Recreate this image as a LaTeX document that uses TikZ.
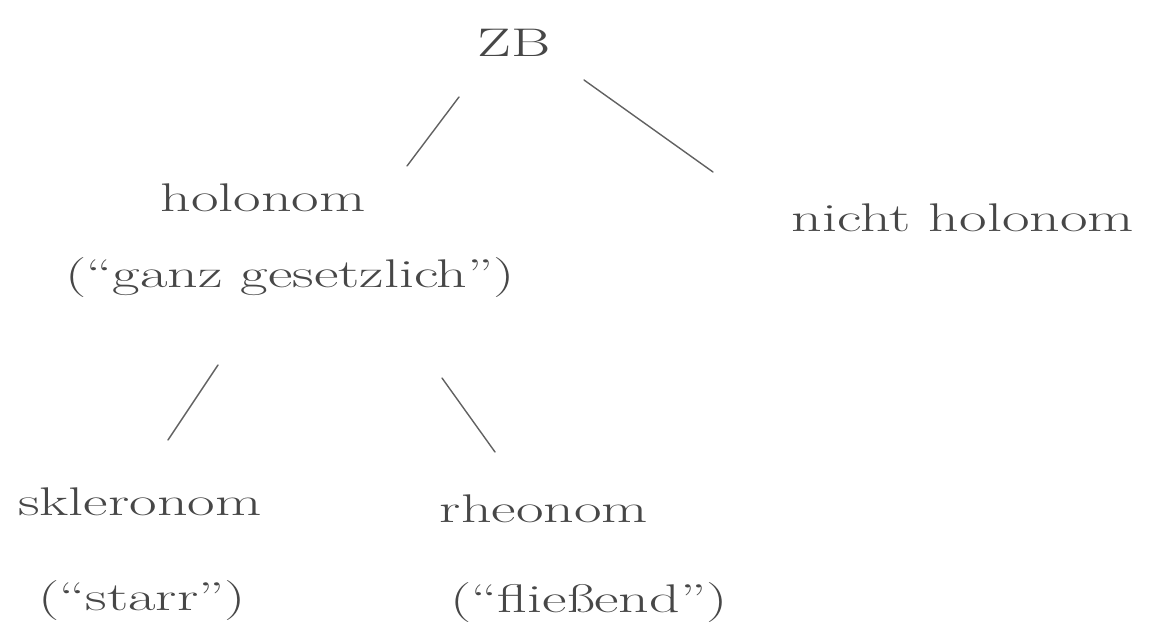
\documentclass[tikz,border=0pt]{standalone}
\usepackage{graphicx}
\tikzset{
  hw/.style={inner sep=0pt, anchor=base, text=black!72, font=\fontsize{40}{48}\selectfont},
  conn/.style={draw=black!62, line width=1.4pt, line cap=round}
}
\newcommand{\hwtext}[1]{\scalebox{1.5}[1]{#1}}
\begin{document}
\begin{tikzpicture}[x=1pt,y=-1pt]
  \useasboundingbox (0,0) rectangle (1163,639);
  % labels
  \node[hw] (zb) at (514,57) {\hwtext{ZB}};
  \node[hw] (holonom) at (263,212) {\hwtext{holonom}};
  \node[hw] (ganz) at (290,288) {\hwtext{(“ganz gesetzlich”)}};
  \node[hw] (nicht) at (963,232) {\hwtext{nicht holonom}};
  \node[hw] (sklero) at (140,515) {\hwtext{skleronom}};
  \node[hw] (starr) at (142,610) {\hwtext{(“starr”)}};
  \node[hw] (rheo) at (544,522) {\hwtext{rheonom}};
  \node[hw] (fliess) at (589,612) {\hwtext{(“fließend”)}};
  % connector end points
  \coordinate (zbL) at (459,97);
  \coordinate (holT) at (407,166);
  \coordinate (zbR) at (584,80);
  \coordinate (nichtT) at (713,172);
  \coordinate (ganzL) at (218,365);
  \coordinate (skleroT) at (168,440);
  \coordinate (ganzR) at (442,378);
  \coordinate (rheoT) at (495,452);
  % connectors
  \draw[conn] (zbL) -- (holT);
  \draw[conn] (zbR) -- (nichtT);
  \draw[conn] (ganzL) -- (skleroT);
  \draw[conn] (ganzR) -- (rheoT);
\end{tikzpicture}
\end{document}
